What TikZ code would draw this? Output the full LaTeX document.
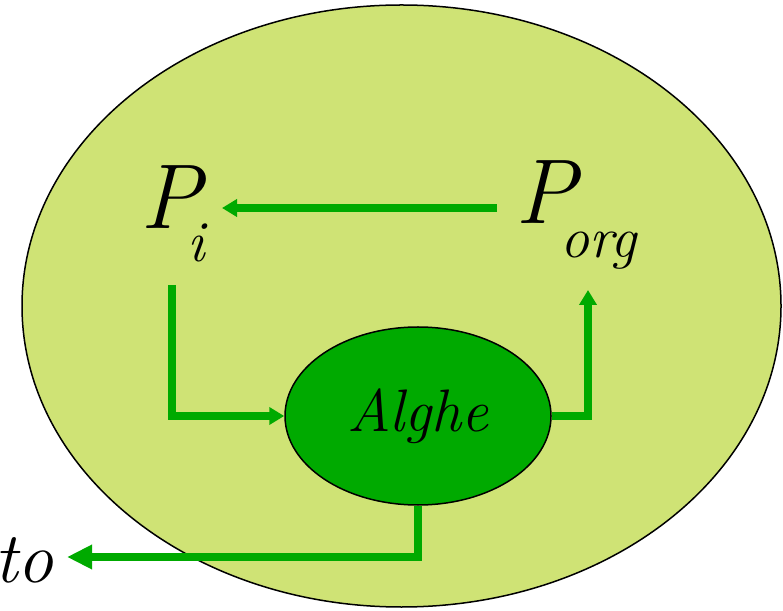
\documentclass[tikz,border=0pt]{standalone}
\usepackage{tikz}
\usetikzlibrary{shapes.geometric, arrows.meta, positioning}
\definecolor{lakebg}{HTML}{CFE375}
\definecolor{algagreen}{HTML}{00AA00}

\begin{document}
\begin{tikzpicture}[x=1pt, y=1pt,
  lbl/.style={inner sep=0pt, font=\fontsize{92}{92}\selectfont\itshape},
  alga/.style={ellipse, draw=black, line width=1.5pt, fill=algagreen,
    minimum width=266pt, minimum height=178pt, inner sep=0pt,
    font=\fontsize{60}{60}\selectfont\itshape},
  flow/.style={-{Triangle[length=15pt, width=17pt]}, line width=8.5pt, draw=algagreen},
  bigflow/.style={-{Triangle[length=25pt, width=23pt]}, line width=8.5pt, draw=algagreen}]
  \useasboundingbox (0,0) rectangle (783,610);
  \draw[line width=1.5pt, fill=lakebg] (401.5,304) ellipse [x radius=379.5, y radius=301];
  \node[alga] (alghe) at (418,194) {Alghe};
  \node[lbl, anchor=base west] (pi) at (140,381)
    {P\kern-14pt\raisebox{-33pt}{\fontsize{58}{58}\selectfont i}};
  \node[lbl, anchor=base west] (porg) at (515,386)
    {P\kern-16pt\raisebox{-34pt}{\fontsize{58}{58}\selectfont org}};
  \node[lbl, anchor=base east, font=\fontsize{72}{72}\selectfont\itshape] (sed) at (54,28) {to};
  \coordinate (porg-w) at (497,402);
  \coordinate (pi-e) at (222,402);
  \coordinate (pi-s) at (172,325);
  \coordinate (porg-s) at (588,320);
  \coordinate (sed-e) at (67,53);
  \draw[flow] (porg-w) -- (pi-e);
  \draw[flow] (pi-s) |- (alghe.west);
  \draw[flow] (alghe.east) -| (porg-s);
  \draw[bigflow] (alghe.south) |- (sed-e);
\end{tikzpicture}
\end{document}
